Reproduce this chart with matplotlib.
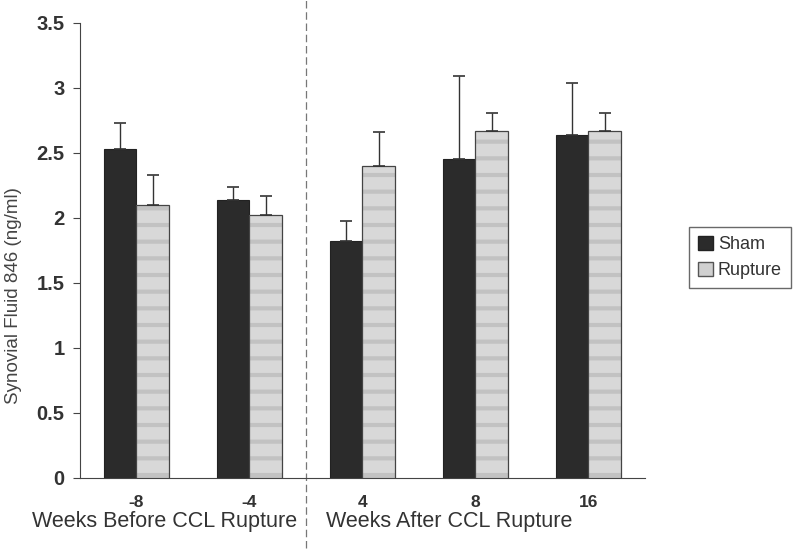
import matplotlib
matplotlib.use("Agg")
import matplotlib.pyplot as plt
import numpy as np
from matplotlib.patches import Patch

plt.rcParams['font.family'] = ['Liberation Sans', 'DejaVu Sans']
plt.rcParams['hatch.linewidth'] = 3.0

categories = ["-8", "-4", "4", "8", "16"]
sham = [2.53, 2.14, 1.82, 2.45, 2.64]
sham_err = [0.20, 0.10, 0.16, 0.64, 0.40]
rupture = [2.10, 2.02, 2.40, 2.67, 2.67]
rupture_err = [0.23, 0.15, 0.26, 0.14, 0.14]
yticks = [0, 0.5, 1, 1.5, 2, 2.5, 3, 3.5]
ytick_labels = ["0", "0.5", "1", "1.5", "2", "2.5", "3", "3.5"]

fig = plt.figure(figsize=(8, 5.55), dpi=100)
ax = fig.add_axes([0.1, 0.139, 0.706, 0.8196])

x = np.arange(len(categories))
w = 0.29
ekw = dict(ecolor='#333333', capsize=4, elinewidth=1, capthick=1.2)
ax.bar(x - w/2, sham, w, color='#2b2b2b', edgecolor='#222222', linewidth=0.8,
       yerr=[np.zeros(len(sham)), sham_err], error_kw=ekw)
# rupture: light fill with soft horizontal stripes, then outline
ax.bar(x + w/2, rupture, w, color='#d8d8d8', edgecolor='#c2c2c2', linewidth=0,
       hatch='-')
ax.bar(x + w/2, rupture, w, color='none', edgecolor='#444444', linewidth=0.9,
       yerr=[np.zeros(len(rupture)), rupture_err], error_kw=ekw)

ax.set_xlim(-0.5, 4.5)
ax.set_ylim(0, 3.5)
ax.set_yticks(yticks)
ax.set_yticklabels(ytick_labels, fontsize=14.5, fontweight='bold', color='#333333')
ax.set_xticks(x)
ax.set_xticklabels(categories, fontsize=12.5, fontweight='bold', color='#333333')
ax.tick_params(axis='x', length=0, pad=12)
ax.tick_params(axis='y', direction='out', length=5, pad=6, color='#444444')
ax.spines['top'].set_visible(False)
ax.spines['right'].set_visible(False)
for s in ['left', 'bottom']:
    ax.spines[s].set_color('#444444')
ax.set_ylabel("Synovial Fluid 846 (ng/ml)", fontsize=13.5, color='#444444')
ax.yaxis.set_label_coords(-0.103, 0.40)

# group labels
ax.text(0.25, -0.097, "Weeks Before CCL Rupture", transform=ax.get_xaxis_transform(),
        ha='center', va='center', fontsize=15.5, color='#333333', clip_on=False)
ax.text(2.77, -0.097, "Weeks After CCL Rupture", transform=ax.get_xaxis_transform(),
        ha='center', va='center', fontsize=15.5, color='#333333', clip_on=False)

# dashed separator
ax.plot([1.5, 1.5], [-0.155, 1.06], transform=ax.get_xaxis_transform(), ls=(0, (6, 3)),
        color='#777777', lw=0.9, clip_on=False)

handles = [Patch(facecolor='#2b2b2b', edgecolor='#222222', label='Sham'),
           Patch(facecolor='#d0d0d0', edgecolor='#555555', label='Rupture')]
leg = fig.legend(handles=handles, loc='center', bbox_to_anchor=(0.925, 0.536), fontsize=13,
                 frameon=True, fancybox=False, edgecolor='#444444', handlelength=0.8,
                 handleheight=0.8, handletextpad=0.3, borderpad=0.5, labelspacing=0.5)
for t in leg.get_texts():
    t.set_color('#333333')

fig.savefig("out.png", dpi=100)
